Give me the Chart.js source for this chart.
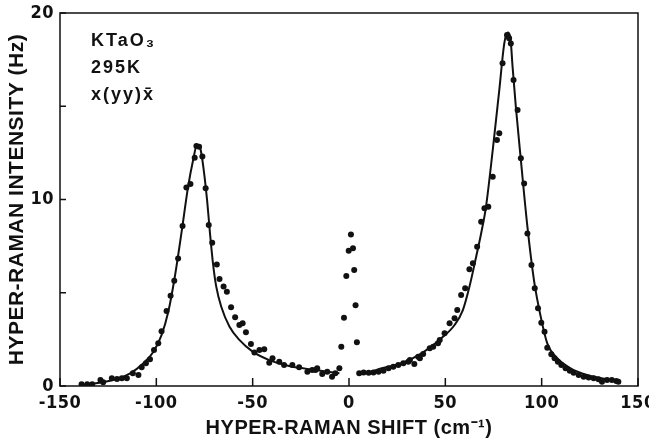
<!DOCTYPE html>
<html>
<head>
<meta charset="utf-8">
<script src="https://cdn.jsdelivr.net/npm/chart.js@4.4.3/dist/chart.umd.min.js"></script>
<style>
  html, body { margin: 0; padding: 0; background: #fff; }
  canvas { display: block; }
</style>
</head>
<body>
<canvas id="c" width="649" height="440"></canvas>
<script>
// measured hyper-Raman points (cm-1, Hz)
const dotX = [-138.8, -135.9, -133.3, -129.0, -127.6, -123.1, -120.4, -117.9, -115.3, -112.2, -109.3, -107.6, -105.4, -103.3,
  -101.2, -99.0, -97.3, -94.7, -92.6, -90.7, -88.7, -86.4, -84.4, -82.3, -80.1, -79.2, -77.8, -76.1, -74.4, -72.8, -71.0,
  -68.6, -67.2, -65.1, -63.4, -61.2, -59.1, -56.9, -55.2, -53.5, -50.9, -49.1, -46.5, -44.0, -41.4, -39.7, -36.2, -33.7,
  -29.4, -25.9, -21.6, -19.1, -17.4, -16.5, -13.9, -11.3, -8.8, -7.1, -5.0,
  -4.0, -2.6, -1.4, -0.15, 1.0, 2.06, 2.7, 3.4, 4.1,
  5.3, 7.6, 10.2, 12.7, 15.3, 17.9, 20.5, 23.0, 25.6, 28.2, 30.8, 31.6, 33.9, 35.9, 36.8, 38.5, 41.9, 43.7, 46.2, 47.1,
  49.6, 52.2, 54.8, 56.2, 58.2, 60.3, 62.5, 64.3, 66.5, 68.6, 70.3, 72.3, 74.6, 76.8, 78.0, 79.7, 82.0, 83.1, 84.0, 85.4,
  87.5, 89.2, 90.9, 92.6, 94.7, 96.4, 98.1, 99.8, 101.5, 102.9, 105.0, 106.7, 108.4, 110.2, 112.4, 114.6, 116.6, 119.2,
  121.8, 124.4, 127.0, 129.5, 131.3, 133.9, 136.4, 138.7, 139.8];
const dotY = [0.10, 0.10, 0.10, 0.32, 0.20, 0.41, 0.37, 0.41, 0.41, 0.68, 0.59, 1.00, 1.22, 1.43,
  1.93, 2.29, 2.93, 4.02, 4.84, 5.65, 6.84, 8.58, 10.65, 10.83, 12.24, 12.87, 12.83, 12.30, 10.60, 8.63, 7.68,
  6.52, 5.74, 5.33, 5.06, 4.22, 3.68, 3.27, 3.36, 2.88, 2.25, 1.79, 1.93, 1.97, 1.25, 1.49, 1.30, 1.13,
  1.13, 1.00, 0.77, 0.86, 0.86, 0.95, 0.64, 0.77, 0.50, 0.68, 0.95,
  2.11, 3.66, 5.90, 7.25, 8.13, 7.38, 6.22, 4.33, 2.34,
  0.68, 0.73, 0.71, 0.73, 0.77, 0.82, 0.95, 1.03, 1.13, 1.22, 1.30, 1.39, 1.18, 1.57, 1.49, 1.72, 2.02, 2.11, 2.29, 2.47,
  2.83, 3.36, 3.63, 4.07, 4.88, 5.24, 6.26, 6.58, 7.47, 8.81, 9.53, 9.61, 11.22, 13.19, 13.55, 17.30, 18.82, 18.64, 18.37, 16.41,
  14.80, 12.21, 10.86, 8.18, 6.49, 5.24, 4.17, 3.39, 2.91, 2.05, 1.70, 1.49, 1.30, 1.13, 0.95, 0.82, 0.71, 0.59,
  0.50, 0.45, 0.41, 0.36, 0.23, 0.32, 0.32, 0.27, 0.23];

// fitted curves, anti-Stokes and Stokes sides
const fitLeftX = [-140, -124, -113.6, -106.7, -101.5, -97.3, -93.8, -90.4, -87.0, -83.5, -80.9, -78.9, -77.2, -75.4, -73.6,
  -72.3, -70.6, -68.9, -66.3, -62.0, -56.9, -50.0, -41.4, -31.1, -17.4, -5];
const fitLeftY = [0.05, 0.28, 0.68, 1.22, 1.84, 2.73, 3.98, 5.86, 8.18, 10.69, 12.12, 12.92, 12.74, 11.58, 9.9,
  8.36, 6.58, 5.33, 4.25, 3.18, 2.47, 1.84, 1.39, 1.07, 0.86, 0.68];
const fitRightX = [5, 10, 17, 27.3, 37.6, 47.9, 54.8, 59.1, 62.5, 66.0, 68.6, 71.1, 74.6, 78.0, 80.6, 82.3, 83.7, 84.9,
  86.6, 89.2, 92.6, 96.0, 99.5, 102.9, 108.1, 115.0, 123.6, 133.9, 139.8];
const fitRightY = [0.62, 0.72, 0.95, 1.22, 1.75, 2.56, 3.27, 4.07, 5.32, 6.93, 8.19, 9.61, 12.65, 15.87, 18.37, 18.95, 18.73, 17.12,
  14.97, 12.12, 8.54, 5.68, 3.72, 2.29, 1.49, 0.95, 0.59, 0.36, 0.27];

const xTicks = [-150, -100, -50, 0, 50, 100, 150];
const yTicks = [0, 5, 10, 15, 20];
const yLabelled = [0, 10, 20];
const noteLines = ["KTaO\u2083", "295K", "x(yy)x\u0304"];

const FONT = "'Liberation Sans', Arial, sans-serif";
const NARROW = "'Liberation Sans Narrow', 'DejaVu Sans Condensed', 'Liberation Sans', sans-serif";
const INK = "#111";

const pts = (xs, ys) => xs.map((x, i) => ({ x, y: ys[i] }));

const framePlugin = {
  id: "frame",
  beforeInit(chart) { chart.ctx.letterSpacing = "0.5px"; },
  beforeDraw(chart) { chart.ctx.letterSpacing = "0.5px"; },
  afterDraw(chart) {
    const { ctx, chartArea: a, scales } = chart;
    ctx.save();
    ctx.strokeStyle = INK;
    ctx.lineWidth = 1.5;
    ctx.strokeRect(a.left, a.top, a.right - a.left, a.bottom - a.top);
    // inward ticks
    ctx.beginPath();
    xTicks.forEach((v) => {
      const px = scales.x.getPixelForValue(v);
      ctx.moveTo(px, a.bottom); ctx.lineTo(px, a.bottom - 8);
    });
    yTicks.forEach((v) => {
      const py = scales.y.getPixelForValue(v);
      ctx.moveTo(a.left, py); ctx.lineTo(a.left + 6, py);
    });
    ctx.stroke();
    // sample notes
    ctx.fillStyle = INK;
    ctx.font = "bold 18px " + FONT;
    ctx.letterSpacing = "2px";
    ctx.textBaseline = "alphabetic";
    noteLines.forEach((t, i) => ctx.fillText(t, 91, 46 + i * 27));
    ctx.restore();
  },
};

new Chart(document.getElementById("c"), {
  type: "scatter",
  data: {
    datasets: [
      { data: pts(dotX, dotY), showLine: false, pointRadius: 3, pointBackgroundColor: INK, pointBorderWidth: 0 },
      { data: pts(fitLeftX, fitLeftY), showLine: true, borderColor: INK, borderWidth: 2, pointRadius: 0, cubicInterpolationMode: "monotone" },
      { data: pts(fitRightX, fitRightY), showLine: true, borderColor: INK, borderWidth: 2, pointRadius: 0, cubicInterpolationMode: "monotone" },
    ],
  },
  options: {
    responsive: false,
    animation: false,
    events: [],
    layout: { padding: { top: 13, right: 11, left: 0, bottom: 0 } },
    plugins: { legend: { display: false }, tooltip: { enabled: false } },
    scales: {
      x: {
        type: "linear", min: -150, max: 150,
        afterBuildTicks: (s) => { s.ticks = xTicks.map((v) => ({ value: v })); },
        afterFit: (s) => { s.height = 54; s.paddingLeft = 0; s.paddingRight = 0; },
        grid: { display: false, drawTicks: false },
        border: { display: false },
        ticks: { color: INK, padding: 7, font: { family: NARROW, size: 18, weight: "bold" }, maxRotation: 0 },
        title: { display: true, text: "HYPER-RAMAN SHIFT (cm\u207B\u00B9)", color: INK, padding: { top: -2, bottom: 0 },
          font: { family: FONT, size: 20, weight: "bold" } },
      },
      y: {
        type: "linear", min: 0, max: 20,
        afterBuildTicks: (s) => { s.ticks = yTicks.map((v) => ({ value: v })); },
        afterFit: (s) => { s.width = 60; s.paddingTop = 0; s.paddingBottom = 0; },
        grid: { display: false, drawTicks: false },
        border: { display: false },
        ticks: { color: INK, padding: 6, font: { family: NARROW, size: 18, weight: "bold" },
          callback: (v) => (yLabelled.includes(v) ? v : "") },
        title: { display: true, text: "HYPER-RAMAN INTENSITY (Hz)", color: INK, padding: { top: 5, bottom: 0 },
          font: { family: FONT, size: 21, weight: "bold" } },
      },
    },
  },
  plugins: [framePlugin],
});
</script>
</body>
</html>
